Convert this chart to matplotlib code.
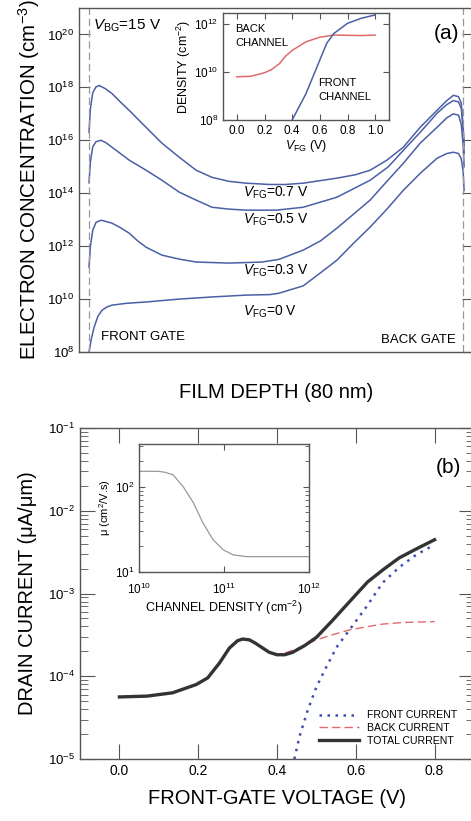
import numpy as np
import matplotlib
matplotlib.use("Agg")
import matplotlib.pyplot as plt

plt.rcParams['font.family'] = ['Liberation Sans', 'DejaVu Sans']
plt.rcParams['mathtext.fontset'] = 'custom'
plt.rcParams['mathtext.rm'] = 'Liberation Sans'
plt.rcParams['mathtext.it'] = 'Liberation Sans:italic'
plt.rcParams['mathtext.default'] = 'regular'

# ---- panel (a): electron concentration vs depth (log10 values)
depth_07 = [0, 0.3, 0.8, 1.5, 2.2, 3.5, 4.9, 6.7, 8.6, 12.2, 15.6, 19.3, 22.9, 26.3, 29.9,
            33.6, 38.7, 42, 45.8, 53, 57, 60.1, 63.7, 67.2, 70.8, 74.4, 76.5, 77.9, 79.0, 79.6, 80, 80.2]
logn_07 = [16.3, 17.2, 17.8, 18.02, 18.07, 17.95, 17.77, 17.45, 17.13, 16.49, 15.89, 15.36, 14.87, 14.6, 14.45,
           14.38, 14.33, 14.33, 14.38, 14.57, 14.7, 14.87, 15.25, 15.74, 16.49, 17.13, 17.5, 17.7, 17.65, 17.4, 16.5, 15.8]
depth_05 = [0, 0.3, 0.8, 1.5, 2.6, 3.7, 4.9, 8.6, 12.2, 15.6, 19.3, 22.9, 26.3, 29.9, 33.6, 40,
            45.8, 53, 60.1, 64, 67.2, 70.8, 74.4, 76.5, 77.9, 79.0, 79.6, 80, 80.2]
logn_05 = [14.4, 15.2, 15.75, 15.95, 16.0, 15.9, 15.74, 15.25, 14.87, 14.49, 14.04, 13.74, 13.47, 13.4, 13.36, 13.36,
           13.47, 13.85, 14.49, 15.0, 15.62, 16.3, 17.02, 17.35, 17.5, 17.45, 17.2, 16.4, 15.5]
depth_03 = [0, 0.3, 0.8, 1.5, 2.6, 4.9, 6.7, 8.6, 10.4, 12.2, 15.6, 19.3, 22.9, 29.9, 37, 40.6,
            45.8, 49.5, 53, 56.5, 60.1, 63.7, 67.2, 70.8, 74.4, 76.5, 77.9, 79.0, 79.6, 80, 80.2]
logn_03 = [11.2, 12.0, 12.6, 12.9, 12.98, 12.87, 12.7, 12.49, 12.2, 11.96, 11.66, 11.51, 11.4, 11.36, 11.4, 11.5,
           11.85, 12.2, 12.68, 13.2, 13.74, 14.45, 15.13, 15.89, 16.49, 16.85, 17.0, 16.95, 16.6, 15.8, 15.0]
depth_00 = [0, 0.5, 1.1, 1.9, 2.8, 3.8, 4.9, 8, 12.2, 19.3, 26.3, 33.6, 38.7, 40.6, 45.8, 49.4, 53,
            56.5, 60.1, 63.7, 67.2, 70.8, 74.4, 76.5, 77.9, 79.0, 79.6, 80, 80.2]
logn_00 = [8.0, 8.5, 8.94, 9.35, 9.58, 9.7, 9.77, 9.84, 9.89, 10.0, 10.08, 10.15, 10.17, 10.22, 10.5, 10.98, 11.47,
           12.1, 12.72, 13.4, 14.11, 14.75, 15.32, 15.5, 15.55, 15.5, 15.3, 14.8, 14.1]
vfg_labels = ['0.7 V', '0.5 V', '0.3 V', '0 V']
vfg_label_y = [0.462, 0.384, 0.235, 0.116]

# inset (a): sheet density vs V_FG
vfg_back = [0, 0.1, 0.2, 0.25, 0.31, 0.35, 0.4, 0.5, 0.6, 0.7, 0.8, 0.9, 1.0]
logd_back = [9.8, 9.82, 9.97, 10.1, 10.36, 10.65, 10.9, 11.26, 11.45, 11.54, 11.53, 11.52, 11.54]
vfg_front = [0.4, 0.5, 0.6, 0.65, 0.7, 0.8, 0.9, 1.0]
logd_front = [8.0, 9.1, 10.5, 11.2, 11.6, 12.03, 12.24, 12.38]

# ---- panel (b): drain current vs front-gate voltage
v_total = [0, 0.07, 0.135, 0.195, 0.224, 0.254, 0.279, 0.30, 0.313, 0.33, 0.345, 0.364, 0.38, 0.40,
           0.42, 0.44, 0.47, 0.5, 0.54, 0.58, 0.63, 0.67, 0.71, 0.75, 0.8]
logi_total = [-4.25, -4.24, -4.2, -4.1, -4.02, -3.84, -3.66, -3.57, -3.55, -3.56, -3.6, -3.66, -3.71, -3.74,
              -3.74, -3.71, -3.63, -3.53, -3.33, -3.12, -2.86, -2.71, -2.57, -2.47, -2.35]
v_front = [0.444, 0.457, 0.478, 0.5, 0.525, 0.551, 0.584, 0.627, 0.668, 0.711, 0.754, 0.8]
logi_front = [-5.0, -4.73, -4.41, -4.13, -3.89, -3.65, -3.44, -3.16, -2.87, -2.68, -2.53, -2.41]
v_back = [0.42, 0.46, 0.5, 0.54, 0.584, 0.63, 0.668, 0.72, 0.8]
logi_back = [-3.72, -3.65, -3.56, -3.5, -3.44, -3.4, -3.37, -3.35, -3.34]
legend_labels = ['FRONT CURRENT', 'BACK CURRENT', 'TOTAL CURRENT']

# inset (b): mobility vs channel density
logdens_mu = [10, 10.22, 10.3, 10.4, 10.52, 10.64, 10.75, 10.87, 10.99, 11.11, 11.27, 11.4, 12]
logmu = [2.18, 2.18, 2.17, 2.14, 2.0, 1.81, 1.58, 1.38, 1.26, 1.2, 1.18, 1.18, 1.18]

blue = '#4b5fa6'
red = '#e06a6a'
spine_c = '#555555'

fig = plt.figure(figsize=(4.71, 8.21), dpi=100)


def style_axes(ax, length=8, minor=4):
    for s in ax.spines.values():
        s.set_color(spine_c)
        s.set_linewidth(1.0)
    ax.tick_params(which='major', direction='in', length=length, color=spine_c, top=True, right=True)
    ax.tick_params(which='minor', direction='in', length=minor, color=spine_c, top=True, right=True)


# ================= panel (a)
axa = fig.add_axes([79 / 471, 1 - 352 / 821, 394 / 471, 344 / 821])
for d, ln in [(depth_07, logn_07), (depth_05, logn_05), (depth_03, logn_03), (depth_00, logn_00)]:
    axa.plot(d, 10 ** np.array(ln), color=blue, lw=1.1)
axa.axvline(0, color='#999999', ls=(0, (6, 3)), lw=0.9)
axa.axvline(80, color='#999999', ls=(0, (6, 3)), lw=0.9)
axa.set_yscale('log')
axa.set_xlim(-2.14, 82.1)
axa.set_ylim(1e8, 1e21)
yt = [1e8, 1e10, 1e12, 1e14, 1e16, 1e18, 1e20]
axa.set_yticks(yt)
axa.set_yticklabels(['$10^{%d}$' % int(np.log10(v)) for v in yt], fontsize=9.5)
axa.yaxis.set_minor_locator(matplotlib.ticker.NullLocator())
axa.set_xticks([])
style_axes(axa)
axa.tick_params(axis='x', which='both', top=False, bottom=False)
axa.set_ylabel('ELECTRON CONCENTRATION (cm$^{-3}$)', fontsize=14.8, labelpad=4)
axa.set_xlabel('FILM DEPTH (80 nm)', fontsize=14.5, labelpad=22)

axa.text(0.036, 0.948, '$\\mathit{V}_{BG}$=15 V', transform=axa.transAxes, fontsize=11, va='center')
axa.text(0.934, 0.927, '(a)', transform=axa.transAxes, fontsize=15, ha='center', va='center')
axa.text(0.056, 0.044, 'FRONT GATE', transform=axa.transAxes, fontsize=9.5, va='center')
axa.text(0.957, 0.035, 'BACK GATE', transform=axa.transAxes, fontsize=9.5, va='center', ha='right')
for lab, yy in zip(vfg_labels, vfg_label_y):
    axa.text(0.416, yy, '$\\mathit{V}_{FG}$=' + lab, transform=axa.transAxes, fontsize=10, va='center')

# inset (a)
ina = fig.add_axes([223 / 471, 1 - 120 / 821, 166 / 471, 107 / 821])
ina.plot(vfg_back, 10 ** np.array(logd_back), color=red, lw=1.1)
ina.plot(vfg_front, 10 ** np.array(logd_front), color=blue, lw=1.1)
ina.set_yscale('log')
ina.set_xlim(-0.1, 1.1)
ina.set_ylim(1e8, 10 ** 12.46)
ina.set_xticks([0, 0.2, 0.4, 0.6, 0.8, 1.0])
ina.set_xticklabels(['0.0', '0.2', '0.4', '0.6', '0.8', '1.0'], fontsize=8.5)
ina.set_yticks([1e8, 1e10, 1e12])
ina.set_yticklabels(['$10^{8}$', '$10^{10}$', '$10^{12}$'], fontsize=8.5)
ina.yaxis.set_minor_locator(matplotlib.ticker.NullLocator())
style_axes(ina, length=4)
ina.set_xlabel('$\\mathit{V}_{FG}$ (V)', fontsize=9, labelpad=1)
ina.set_ylabel('DENSITY (cm$^{-2}$)', fontsize=9, labelpad=1)
ina.text(0.072, 0.9, 'BACK\nCHANNEL', transform=ina.transAxes, fontsize=8, va='top', linespacing=1.5)
ina.text(0.572, 0.39, 'FRONT\nCHANNEL', transform=ina.transAxes, fontsize=8, va='top', linespacing=1.5)

# ================= panel (b)
axb = fig.add_axes([80 / 471, 1 - 759 / 821, 394 / 471, 331 / 821])
axb.plot(v_front, 10 ** np.array(logi_front), color='#3f4fb0', ls=(0, (1, 2.2)), lw=1.8, label=legend_labels[0])
axb.plot(v_back, 10 ** np.array(logi_back), color=red, ls=(0, (6, 3)), lw=1.0, label=legend_labels[1])
axb.plot(v_total, 10 ** np.array(logi_total), color='#333333', lw=2.4, label=legend_labels[2])
axb.set_yscale('log')
axb.set_xlim(-0.1, 0.9)
axb.set_ylim(1e-5, 1e-1)
axb.set_xticks([0, 0.2, 0.4, 0.6, 0.8])
axb.set_xticklabels(['0.0', '0.2', '0.4', '0.6', '0.8'], fontsize=10)
ybt = [1e-5, 1e-4, 1e-3, 1e-2, 1e-1]
axb.set_yticks(ybt)
axb.set_yticklabels(['$10^{%d}$' % int(np.log10(v)) for v in ybt], fontsize=9.5)
axb.yaxis.set_minor_locator(matplotlib.ticker.LogLocator(base=10, subs=np.arange(2, 10)))
axb.yaxis.set_minor_formatter(matplotlib.ticker.NullFormatter())
style_axes(axb, length=11, minor=6)
axb.set_ylabel('DRAIN CURRENT (\u03bcA/\u03bcm)', fontsize=14.5, labelpad=8)
axb.set_xlabel('FRONT-GATE VOLTAGE (V)', fontsize=14.5, labelpad=8)
axb.text(0.934, 0.882, '(b)', transform=axb.transAxes, fontsize=15, ha='center', va='center')
axb.legend(loc='lower right', bbox_to_anchor=(0.957, 0.04), frameon=False, fontsize=7.6,
           handlelength=3.8, labelspacing=0.25, handletextpad=0.75, borderpad=0, borderaxespad=0)

# inset (b)
inb = fig.add_axes([139 / 471, 1 - 572 / 821, 170 / 471, 128 / 821])
inb.plot(10 ** np.array(logdens_mu), 10 ** np.array(logmu), color='#999999', lw=0.9)
inb.set_xscale('log')
inb.set_yscale('log')
inb.set_xlim(1e10, 1e12)
inb.set_ylim(10, 10 ** 2.5)
inb.set_xticks([1e10, 1e11, 1e12])
inb.set_xticklabels(['$10^{10}$', '$10^{11}$', '$10^{12}$'], fontsize=8.5)
inb.set_yticks([10, 100])
inb.set_yticklabels(['$10^{1}$', '$10^{2}$'], fontsize=8.5)
inb.xaxis.set_minor_locator(matplotlib.ticker.NullLocator())
inb.yaxis.set_minor_locator(matplotlib.ticker.LogLocator(base=10, subs=np.arange(2, 10)))
inb.yaxis.set_minor_formatter(matplotlib.ticker.NullFormatter())
style_axes(inb, length=4, minor=3)
inb.tick_params(axis='x', which='major', pad=7)
inb.set_xlabel('CHANNEL DENSITY (cm$^{-2}$)', fontsize=9, labelpad=1)
inb.set_ylabel('\u03bc (cm$^{2}$/V.s)', fontsize=8, labelpad=1)

fig.savefig('out.png', dpi=100)
